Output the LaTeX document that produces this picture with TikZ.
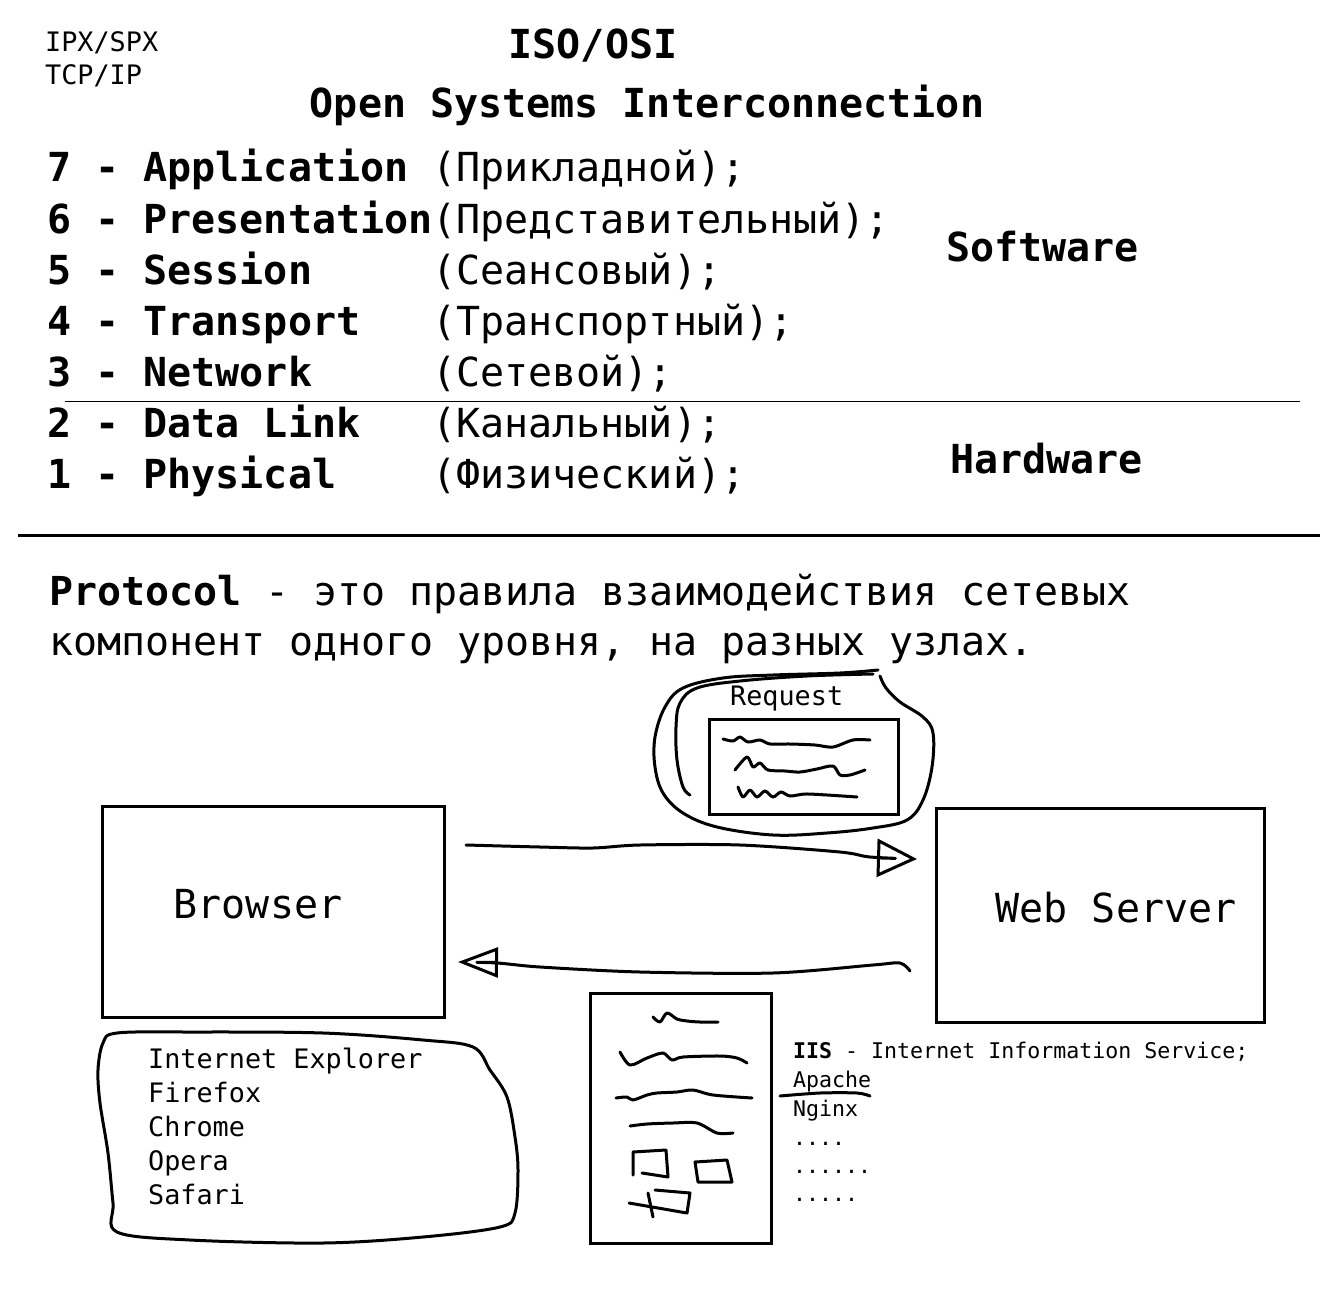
\documentclass[tikz,border=0pt]{standalone}
\usepackage{fontspec}
\setmainfont{DejaVu Sans Mono}
\usetikzlibrary{arrows.meta,positioning}

\tikzset{
    txt/.style={inner sep=0pt, anchor=base west},
    big/.style={txt, font=\fontsize{40}{48}\selectfont},
    bigb/.style={txt, font=\fontsize{40}{48}\selectfont\bfseries},
    mid/.style={txt, font=\fontsize{39.9}{46}\selectfont},
    small/.style={txt, font=\fontsize{26.8}{32}\selectfont},
    tiny/.style={txt, font=\fontsize{21.6}{26}\selectfont},
    pen/.style={line width=3pt, line cap=round, line join=round},
    box/.style={draw, line width=3pt, inner sep=0pt},
    hand/.style={pen, -{Triangle[open, length=40pt, width=38pt, line width=3pt]}}
}

\begin{document}
\begin{tikzpicture}[x=1pt, y=-1pt]
    \useasboundingbox (0,0) rectangle (1324,1292);

    % Title
    \node[small] (ipx) at (45,52) {IPX/SPX};
    \node[small] (tcp) at (45,85) {TCP/IP};
    \node[bigb, anchor=base] (iso) at (593,59) {ISO/OSI};
    \node[bigb, anchor=base] (osi) at (647,118) {Open Systems Interconnection};

    % Layers
    \foreach \n/\en/\ru/\y in {7/Application/Прикладной/182,
                               6/Presentation/Представительный/233,
                               5/Session/Сеансовый/284,
                               4/Transport/Транспортный/335,
                               3/Network/Сетевой/386,
                               2/Data Link/Канальный/437,
                               1/Physical/Физический/488} {
        \node[bigb] (en\n) at (47,\y) {\n{} - \en};
        \node[big] (ru\n) at (432,\y) {(\ru);};
    }
    \node[bigb] (soft) at (946,261) {Software};
    \node[bigb] (hard) at (950,473) {Hardware};
    \draw[line width=1pt] (65,401) -- (1300,401);
    \draw[line width=3pt] (18,535) -- (1320,535);

    % Definition
    \node[mid] (proto1) at (49,605) {\textbf{Protocol} - это правила взаимодействия сетевых};
    \node[mid] (proto2) at (49,655) {компонент одного уровня, на разных узлах.};

    % Browser and server
    \node[box, minimum width=342pt, minimum height=211pt] (browser) at (273,911.5) {};
    \node[big, anchor=base] (browser-txt) at (258,918) {Browser};
    \node[box, minimum width=328pt, minimum height=214pt] (server) at (1100,915) {};
    \node[big, anchor=base] (server-txt) at (1116,922) {Web Server};

    % Request
    \node[small] (req) at (730,705) {Request};
    \node[box, minimum width=189pt, minimum height=95pt] (reqdoc) at (803.5,766.5) {};
    \draw[pen] plot[smooth, tension=0.6] coordinates {
        (878,670) (840,673) (773,675) (723,678) (683,688) (665,707) (655,737) (655,767)
        (663,793) (683,813) (717,827) (773,835) (827,833) (873,828) (907,820) (923,800)
        (932,767) (933,733) (923,717) (900,702) (886,688) (880,676)
    };
    \draw[pen] plot[smooth, tension=0.6] coordinates {
        (873,674) (807,676) (740,681) (697,688) (680,703) (676,727) (677,760) (683,787) (690,795)
    };
    \draw[pen] plot[smooth, tension=0.5] coordinates {
        (723,739) (733,741) (740,737) (748,742) (760,740) (770,744) (790,744) (815,745)
        (833,747) (853,740) (870,740)
    };
    \draw[pen] plot[smooth, tension=0.5] coordinates {
        (735,770) (747,757) (753,767) (760,763) (768,770) (785,771) (800,772) (817,769)
        (833,766) (840,775) (850,775) (865,770)
    };
    \draw[pen] plot[smooth, tension=0.5] coordinates {
        (738,787) (743,797) (750,790) (757,797) (765,791) (773,797) (781,792) (790,796)
        (805,794) (827,795) (857,797)
    };

    % Messages
    \coordinate (req-from) at (466,845);
    \coordinate (req-to) at (917,859);
    \coordinate (resp-from) at (910,971);
    \coordinate (resp-to) at (458,962);
    \draw[hand] plot[smooth, tension=0.5] coordinates {
        (req-from) (540,847) (593,848) (640,845) (740,845) (840,852) (870,857) (req-to)
    };
    \draw[pen, -{Triangle[open, length=40pt, width=30pt, line width=3pt]}] plot[smooth, tension=0.5] coordinates {
        (resp-from) (900,963) (873,965) (773,973) (640,972) (540,967) (497,963) (resp-to)
    };

    % Browser list
    \draw[pen] plot[smooth cycle, tension=0.55] coordinates {
        (103,1043) (117,1033) (190,1032) (323,1033) (423,1040) (473,1047) (490,1070)
        (507,1097) (515,1137) (518,1170) (515,1213) (500,1227) (423,1237) (323,1243)
        (190,1240) (117,1232) (113,1203) (108,1153) (100,1103) (98,1070)
    };
    \foreach \name/\y [count=\i] in {Internet Explorer/1068, Firefox/1102, Chrome/1136,
                                     Opera/1170, Safari/1204} {
        \node[small] (brw\i) at (148,\y) {\name};
    }

    % Page
    \node[box, minimum width=181pt, minimum height=250pt] (page) at (680.5,1118) {};
    \draw[pen] plot[smooth, tension=0.5] coordinates {
        (653,1017) (660,1022) (667,1013) (677,1019) (687,1021) (700,1022) (718,1022)
    };
    \draw[pen] plot[smooth, tension=0.5] coordinates {
        (620,1052) (630,1065) (647,1058) (663,1053) (672,1060) (683,1057) (720,1056)
        (737,1058) (747,1063)
    };
    \draw[pen] plot[smooth, tension=0.5] coordinates {
        (616,1098) (627,1097) (633,1100) (647,1095) (657,1093) (677,1092) (693,1090)
        (713,1095) (752,1098)
    };
    \draw[pen] plot[smooth, tension=0.5] coordinates {
        (630,1126) (647,1124) (673,1123) (697,1123) (717,1133) (733,1133)
    };
    \draw[pen] (642,1173) -- (668,1177) -- (666,1150) -- (633,1152) -- (633,1175);
    \draw[pen] (695,1162) -- (698,1182) -- (732,1182) -- (727,1160) -- cycle;
    \draw[pen] (629,1203) -- (687,1213) -- (690,1193) -- (655,1190);
    \draw[pen] (648,1193) -- (653,1217);

    % Servers
    \node[tiny] (iis) at (793,1058) {\textbf{IIS} - Internet Information Service;};
    \node[tiny] (apache) at (793,1087) {Apache};
    \node[tiny] (nginx) at (793,1116) {Nginx};
    \node[tiny] (dots1) at (793,1145) {....};
    \node[tiny] (dots2) at (793,1173) {......};
    \node[tiny] (dots3) at (793,1201) {.....};
    \draw[pen] plot[smooth, tension=0.5] coordinates {(780,1096) (820,1093) (857,1093) (870,1096)};
\end{tikzpicture}
\end{document}
